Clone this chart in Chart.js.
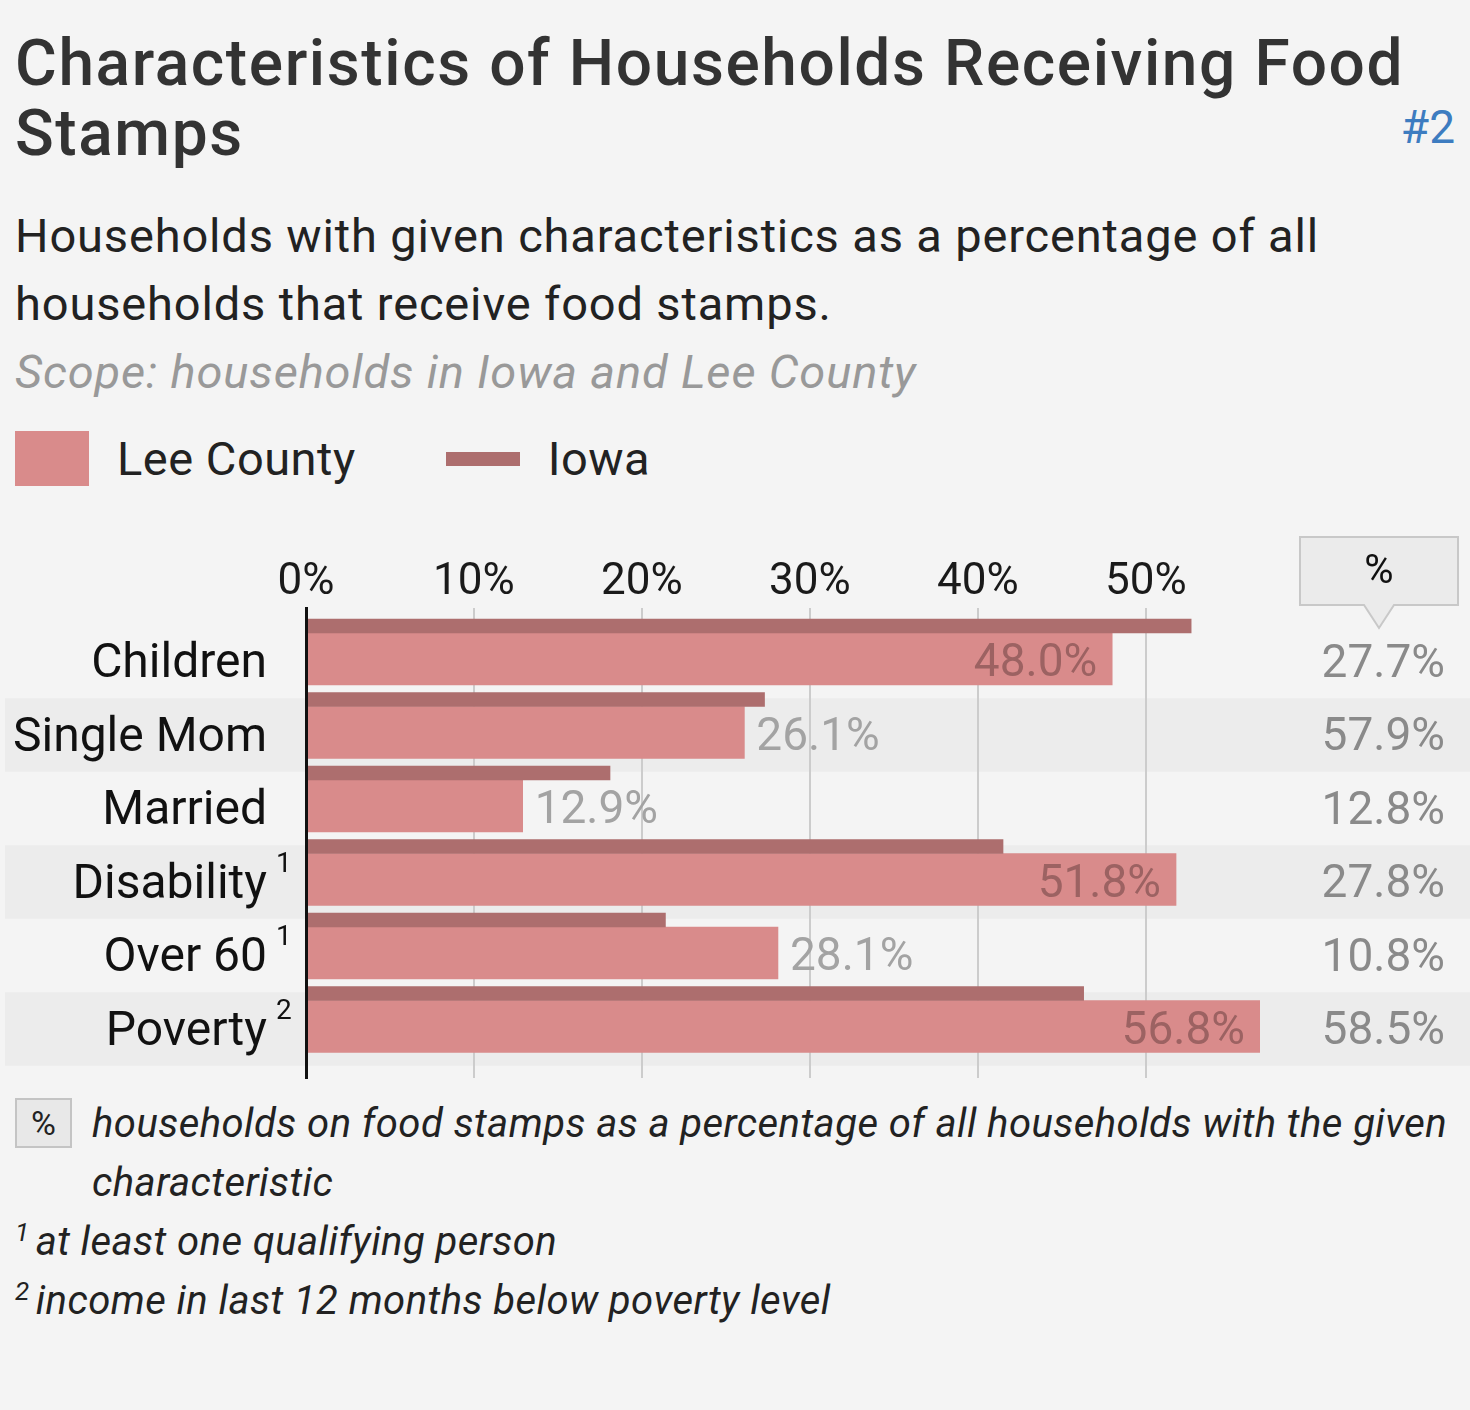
<!DOCTYPE html>
<html>
<head>
<meta charset="utf-8">
<title>Characteristics of Households Receiving Food Stamps</title>
<script src="https://cdn.jsdelivr.net/npm/chart.js@4.4.1/dist/chart.umd.min.js"></script>
<style>
  body { margin: 0; background: #f4f4f4; font-family: Roboto, "Noto Sans", sans-serif; color: #222; }
  #page { position: relative; width: 1470px; height: 1410px; overflow: hidden; }
  .title { position: absolute; left: 15px; top: 29px; font-size: 64px; line-height: 70px; font-weight: 500; color: #333; letter-spacing: 1.6px; }
  .num { position: absolute; right: 15px; top: 100px; font-size: 46px; color: #3d7cc0; }
  .sub { position: absolute; left: 15px; top: 202px; font-size: 47px; line-height: 68px; color: #222; letter-spacing: 0.85px; }
  .scope { font-style: italic; color: #999; }
  .legend { position: absolute; left: 15px; top: 431px; height: 55px; display: flex; align-items: center; font-size: 47px; color: #222; letter-spacing: 0.5px; }
  .sw { width: 74px; height: 55px; background: #d98b8b; margin-right: 28px; }
  .ln { width: 74px; height: 14px; background: #ad6e6e; margin-left: 90px; margin-right: 28px; }
  #wrap { position: absolute; left: 0; top: 520px; width: 1470px; height: 570px; }
  .foot { position: absolute; left: 15px; top: 1094px; font-size: 40px; line-height: 59px; font-style: italic; color: #222; width: 1450px; letter-spacing: 0.45px; }
  .foot .row { position: relative; padding-left: 77px; }
  .foot .box { position: absolute; left: 0; top: 4px; width: 57px; height: 50px; background: #e8e8e8; border: 2px solid #c4c4c4; box-sizing: border-box; font-style: normal; font-size: 34px; line-height: 46px; text-align: center; letter-spacing: 0; }
  .foot sup { font-size: 26px; vertical-align: 14px; line-height: 0; margin-right: 6px; }
</style>
</head>
<body>
<div id="page">
  <div class="title">Characteristics of Households Receiving Food<br>Stamps</div>
  <div class="num">#2</div>
  <div class="sub">Households with given characteristics as a percentage of all<br>households that receive food stamps.<br><span class="scope">Scope: households in Iowa and Lee County</span></div>
  <div class="legend"><div class="sw"></div>Lee County<div class="ln"></div>Iowa</div>
  <div id="wrap"><canvas id="chart" width="1470" height="570"></canvas></div>
  <div class="foot">
    <div class="row"><span class="box">%</span>households on food stamps as a percentage of all households with the given<br>characteristic</div>
    <div><sup>1</sup>at least one qualifying person</div>
    <div><sup>2</sup>income in last 12 months below poverty level</div>
  </div>
</div>
<script>
const categories = ['Children', 'Single Mom', 'Married', 'Disability', 'Over 60', 'Poverty'];
const footMarks = ['', '', '', '1', '1', '2'];
const leeCounty = [48.0, 26.1, 12.9, 51.8, 28.1, 56.8];
const iowa = [52.7, 27.3, 18.1, 41.5, 21.4, 46.3];
const shareOfGroup = [27.7, 57.9, 12.8, 27.8, 10.8, 58.5];

const FONT = 'Roboto, "Noto Sans", sans-serif';
const ROW_SHIFT = 28.5;   // row centre below the Iowa/Lee boundary

// grey band behind every other row
const stripes = {
  id: 'stripes',
  beforeDraw(chart) {
    const ctx = chart.ctx, ys = chart.scales.y;
    const step = Math.abs(ys.getPixelForValue(1) - ys.getPixelForValue(0));
    ctx.save();
    ctx.fillStyle = '#ececec';
    categories.forEach((c, i) => {
      if (i % 2 === 0) return;
      const mid = ys.getPixelForValue(i) + ROW_SHIFT;
      ctx.fillRect(5, mid - step / 2, chart.width - 5, step);
    });
    ctx.restore();
  }
};

// value labels on the Lee County bars
const barLabels = {
  id: 'barLabels',
  afterDatasetsDraw(chart) {
    const ctx = chart.ctx, xs = chart.scales.x;
    const meta = chart.getDatasetMeta(1);
    ctx.save();
    ctx.font = '46px ' + FONT;
    ctx.textBaseline = 'middle';
    meta.data.forEach((bar, i) => {
      const txt = leeCounty[i].toFixed(1) + '%';
      if (leeCounty[i] > xs.max * 0.6) {
        ctx.textAlign = 'right';
        ctx.fillStyle = '#9c6262';
        ctx.fillText(txt, bar.x - 15, bar.y + 6);
      } else {
        ctx.textAlign = 'left';
        ctx.fillStyle = '#a3a3a3';
        ctx.fillText(txt, bar.x + 12, bar.y + 6);
      }
    });
    ctx.restore();
  }
};

// superscripts, right-hand % column and its header
const extras = {
  id: 'extras',
  afterDraw(chart) {
    const ctx = chart.ctx, ys = chart.scales.y;
    ctx.save();
    const labelRight = chart.chartArea.left - 39;
    categories.forEach((c, i) => {
      const mid = ys.getPixelForValue(i) + ROW_SHIFT;
      if (footMarks[i]) {
        ctx.font = '28px ' + FONT;
        ctx.fillStyle = '#111';
        ctx.textAlign = 'left';
        ctx.textBaseline = 'middle';
        ctx.fillText(footMarks[i], labelRight + 9, mid - 17);
      }
      ctx.font = '46px ' + FONT;
      ctx.fillStyle = '#8a8a8a';
      ctx.textAlign = 'right';
      ctx.textBaseline = 'middle';
      ctx.fillText(shareOfGroup[i].toFixed(1) + '%', 1445, mid + 4);
    });
    // header box with pointer
    const bx = 1300, by = 17, bw = 158, bh = 68, cx = bx + bw / 2;
    ctx.beginPath();
    ctx.moveTo(bx, by);
    ctx.lineTo(bx + bw, by);
    ctx.lineTo(bx + bw, by + bh);
    ctx.lineTo(cx + 15, by + bh);
    ctx.lineTo(cx, by + bh + 23);
    ctx.lineTo(cx - 15, by + bh);
    ctx.lineTo(bx, by + bh);
    ctx.closePath();
    ctx.fillStyle = '#ebebeb';
    ctx.fill();
    ctx.strokeStyle = '#c8c8c8';
    ctx.lineWidth = 2;
    ctx.stroke();
    ctx.fillStyle = '#111';
    ctx.font = '40px ' + FONT;
    ctx.textAlign = 'center';
    ctx.textBaseline = 'middle';
    ctx.fillText('%', cx, by + bh / 2 + 2);
    ctx.restore();
  }
};

new Chart(document.getElementById('chart'), {
  type: 'bar',
  data: {
    datasets: [
      {
        label: 'Iowa',
        stack: 'iowa',
        data: categories.map((c, i) => ({ x: iowa[i], y: i })),
        backgroundColor: '#ad6e6e',
        barThickness: 14
      },
      {
        label: 'Lee County',
        stack: 'lee',
        data: categories.map((c, i) => ({ x: leeCounty[i], y: i })),
        backgroundColor: '#d98b8b',
        barThickness: 52
      }
    ]
  },
  options: {
    indexAxis: 'y',
    responsive: false,
    animation: false,
    layout: { padding: { left: 0, right: 210, top: 0, bottom: 12 } },
    plugins: { legend: { display: false }, tooltip: { enabled: false } },
    scales: {
      x: {
        type: 'linear',
        position: 'top',
        min: 0,
        max: 56.8,
        bounds: 'data',
        ticks: {
          stepSize: 10,
          includeBounds: false,
          padding: -1,
          color: '#1a1a1a',
          font: { family: FONT, size: 44 },
          callback: v => v + '%'
        },
        grid: { color: '#cccccc', lineWidth: 2, drawTicks: false },
        border: { display: false },
        afterFit: s => { s.height = 88; }
      },
      y: {
        type: 'linear',
        position: 'left',
        reverse: true,
        offset: false,
        min: -0.34,
        max: 6.055,
        bounds: 'data',
        ticks: {
          autoSkip: false,
          labelOffset: ROW_SHIFT + 4,
          padding: 39,
          color: '#111',
          font: { family: FONT, size: 48 },
          callback: v => categories[v]
        },
        afterBuildTicks: s => { s.ticks = categories.map((c, i) => ({ value: i })); },
        grid: { display: false, drawTicks: false, offset: false },
        border: { display: true, color: '#111', width: 3, z: 1 },
        afterFit: s => { s.width = 306; s.paddingTop = 0; s.paddingBottom = 0; }
      }
    }
  },
  plugins: [stripes, barLabels, extras]
});
</script>
</body>
</html>
